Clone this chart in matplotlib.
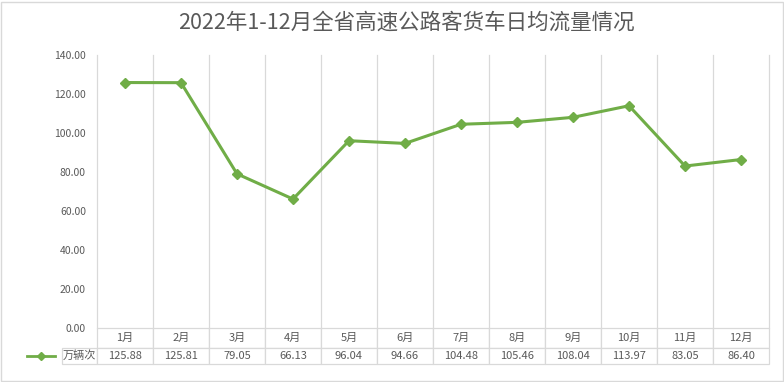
import matplotlib.pyplot as plt
import numpy as np
from matplotlib.lines import Line2D
from matplotlib.patches import Rectangle

plt.rcParams['font.family'] = ['Noto Sans CJK SC', 'DejaVu Sans']

months = ['1月', '2月', '3月', '4月', '5月', '6月', '7月', '8月', '9月', '10月', '11月', '12月']
flow = [125.88, 125.81, 79.05, 66.13, 96.04, 94.66, 104.48, 105.46, 108.04, 113.97, 83.05, 86.40]
series_name = '万辆次'
title = '2022年1-12月全省高速公路客货车日均流量情况'

green = '#70ad47'
grey = '#595959'
grid = '#d9d9d9'

W, H = 784, 382
fig = plt.figure(figsize=(W / 100, H / 100), dpi=100)
fig.patch.set_facecolor('white')
fig.add_artist(Rectangle((0.5 / W, 1.5 / H), (W - 1.5) / W, (H - 3) / H, transform=fig.transFigure,
                         fill=False, edgecolor=grid, lw=1))

# plot area in pixels
L, R, T, B = 97, 769, 55, 328
ax = fig.add_axes([L / W, 1 - B / H, (R - L) / W, (B - T) / H])

x = np.arange(len(months)) + 0.5
ax.plot(x, flow, color=green, lw=2.2, marker='D', ms=5.5, zorder=3)

ax.set_xlim(0, len(months))
ax.set_ylim(0, 140)
ax.set_yticks(np.arange(0, 141, 20))
ax.set_yticklabels(['%.2f' % v for v in np.arange(0, 141, 20)])
ax.set_xticks(np.arange(0, len(months) + 1))
ax.set_xticklabels([])
ax.tick_params(axis='both', length=0, labelsize=7.5, colors=grey, pad=8)
ax.grid(axis='x', color=grid, lw=0.9)
for gl in ax.get_xgridlines():
    gl.set_clip_on(False)
for s in ax.spines.values():
    s.set_visible(False)

fig.text(406 / W, 1 - 23 / H, title, ha='center', va='center', fontsize=15.5, color=grey)

# data table below the plot
pw = R - L
ph = B - T
lab_w = 74
head_h, row_h = 20, 16
tb = ax.table(cellText=[['%.2f' % v for v in flow]], rowLabels=[series_name], colLabels=months,
              cellLoc='center', rowLoc='right',
              bbox=[0, -(head_h + row_h) / ph, 1, (head_h + row_h) / ph])
tb.auto_set_font_size(False)
for (r, c), cell in tb.get_celld().items():
    cell.set_edgecolor(grid)
    cell.set_linewidth(0.9)
    cell.get_text().set_color(grey)
    cell.get_text().set_fontsize(8)
    cell.set_height((head_h if r == 0 else row_h) / ph)
    if c == -1:
        cell.set_width(lab_w / pw)
        cell.PAD = 0.02
    else:
        cell.set_width(1 / len(months))

# legend key in the row label cell
ky = -(head_h + row_h / 2) / ph
ax.add_line(Line2D([(27 - L) / pw, (55 - L) / pw], [ky, ky], transform=ax.transAxes, color=green,
                   lw=2, clip_on=False))
ax.add_line(Line2D([(41 - L) / pw], [ky], transform=ax.transAxes, color=green, marker='D', ms=4.5,
                   clip_on=False))

fig.savefig('out.png', dpi=100)
